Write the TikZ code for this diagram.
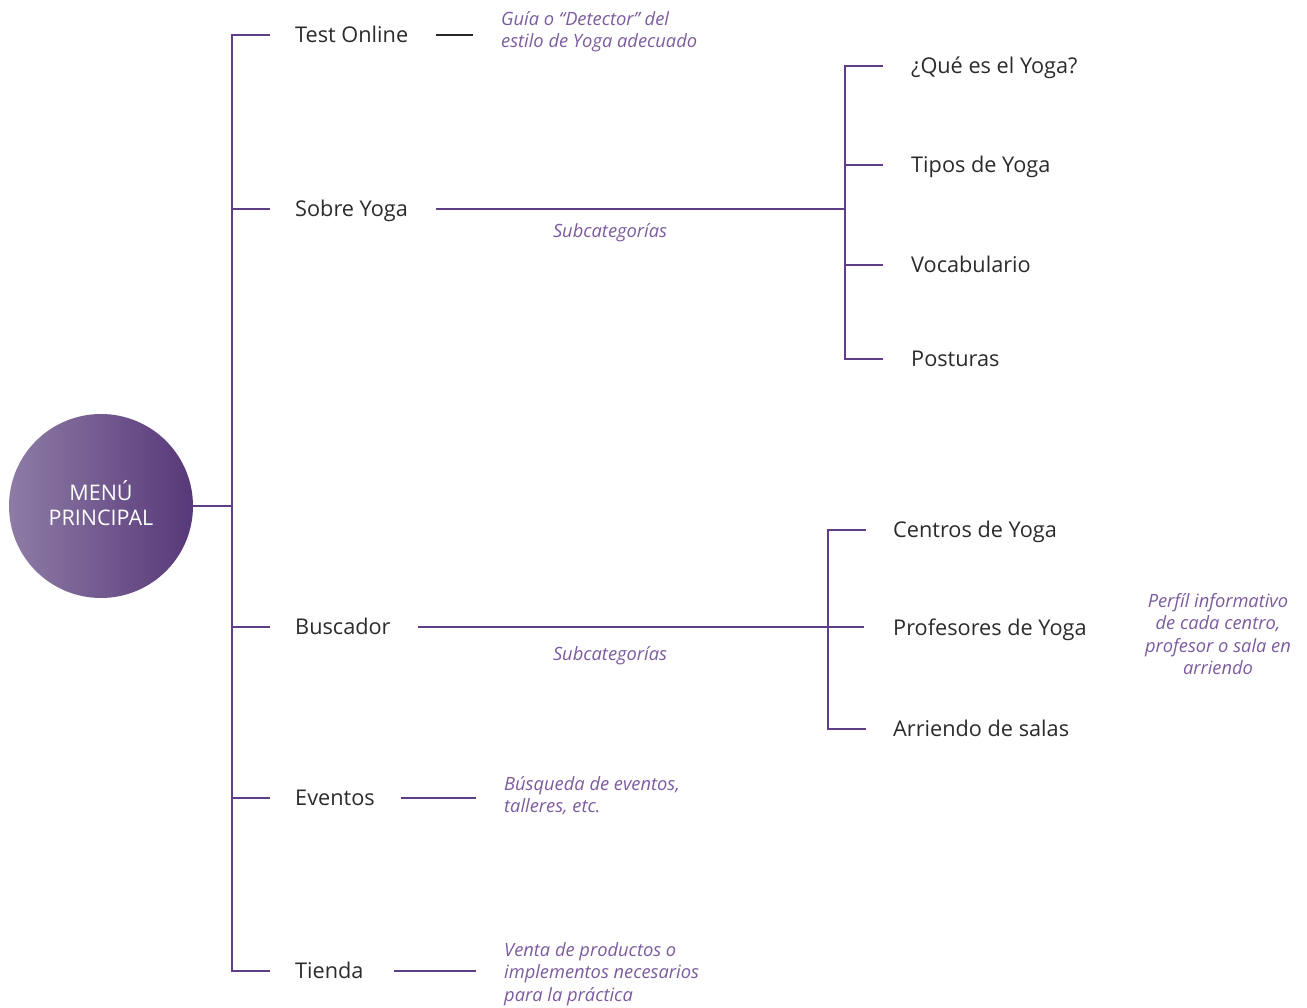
\documentclass[tikz,border=0pt]{standalone}
\usepackage{fontspec}
\setmainfont{Open Sans}
\usetikzlibrary{calc}
\definecolor{lineP}{HTML}{5E3F86}
\definecolor{noteP}{HTML}{7B5B9E}
\definecolor{txt}{HTML}{2B2B2B}
\definecolor{cL}{HTML}{8E7CA5}
\definecolor{cR}{HTML}{573879}
\begin{document}
\begin{tikzpicture}[x=1pt,y=-1pt,
  conn/.style={draw=lineP, line width=2pt},
  darkconn/.style={draw=black!85, line width=1.3pt},
  item/.style={anchor=west, inner sep=0pt, text=txt, font=\fontsize{21.7}{26}\selectfont, text height=15.5pt, text depth=0pt},
  note/.style={anchor=west, inner sep=0pt, text=noteP, font=\itshape\fontsize{18.3}{22.3}\selectfont, align=left},
  cnote/.style={inner sep=0pt, text=noteP, font=\itshape\fontsize{18.3}{22.3}\selectfont, align=center},
]
\useasboundingbox (0,0) rectangle (1307,1008);
\coordinate (j1) at (232,0);
\coordinate (s1) at (845,0);
\coordinate (b1) at (828,0);

% root
\node[circle, minimum size=184pt, inner sep=0pt, left color=cL, right color=cR] (menu) at (101,506) {};
\node[text=white, font=\fontsize{21.5}{25}\selectfont, align=center, inner sep=0pt] (menutxt) at (101,503) {MENÚ\\PRINCIPAL};

% first level
\node[item] (test) at (295,35) {Test Online};
\node[item] (sobre) at (295,209) {Sobre Yoga};
\node[item] (busc) at (295,627) {Buscador};
\node[item] (even) at (295,798) {Eventos};
\node[item] (tien) at (295,971) {Tienda};

% sobre yoga children
\node[item] (q1) at (911,66) {¿Qué es el Yoga?};
\node[item] (q2) at (911,165) {Tipos de Yoga};
\node[item] (q3) at (911,265) {Vocabulario};
\node[item] (q4) at (911,359) {Posturas};

% buscador children
\node[item] (c1) at (893,530) {Centros de Yoga};
\node[item] (c2) at (893,628) {Profesores de Yoga};
\node[item] (c3) at (893,729) {Arriendo de salas};

% notes
\node[note] (testnote) at (501,32) {Guía o “Detector” del\\estilo de Yoga adecuado};
\node[cnote] (sub1) at (610,233) {Subcategorías};
\node[cnote] (sub2) at (610,656) {Subcategorías};
\node[cnote] (perfil) at (1218,634) {Perfíl informativo\\de cada centro,\\profesor o sala en\\arriendo};
\node[note] (evnote) at (504,796) {Búsqueda de eventos,\\talleres, etc.};
\node[note] (tinote) at (504,974) {Venta de productos o\\implementos necesarios\\para la práctica};

% trunk
\draw[conn] (menu.east) -- (menu.east -| j1);
\draw[conn] ([xshift=-25pt]test.west) -- (test.west -| j1) -- (tien.west -| j1) -- ([xshift=-25pt]tien.west);
\draw[conn] (sobre.west -| j1) -- ([xshift=-25pt]sobre.west);
\draw[conn] (busc.west -| j1) -- ([xshift=-25pt]busc.west);
\draw[conn] (even.west -| j1) -- ([xshift=-25pt]even.west);

% sobre yoga subtree
\draw[conn] ([xshift=-28pt]q1.west) -- (q1.west -| s1) -- (q4.west -| s1) -- ([xshift=-28pt]q4.west);
\draw[conn] (q2.west -| s1) -- ([xshift=-28pt]q2.west);
\draw[conn] (q3.west -| s1) -- ([xshift=-28pt]q3.west);
\draw[conn] ([xshift=28pt]sobre.east) -- (sobre.east -| s1);

% buscador subtree
\draw[conn] ([xshift=-27pt]c1.west) -- (c1.west -| b1) -- (c3.west -| b1) -- ([xshift=-27pt]c3.west);
\draw[conn] ([xshift=27pt]busc.east) -- ([xshift=-29pt]busc.east -| c2.west);

% note connectors
\draw[darkconn] ([xshift=28pt]test.east) -- ([xshift=-28pt]test.east -| testnote.west);
\draw[conn] ([xshift=26pt]even.east) -- ([xshift=-28pt]even.east -| evnote.west);
\draw[conn] ([xshift=30pt]tien.east) -- ([xshift=-28pt]tien.east -| tinote.west);
\end{tikzpicture}
\end{document}
